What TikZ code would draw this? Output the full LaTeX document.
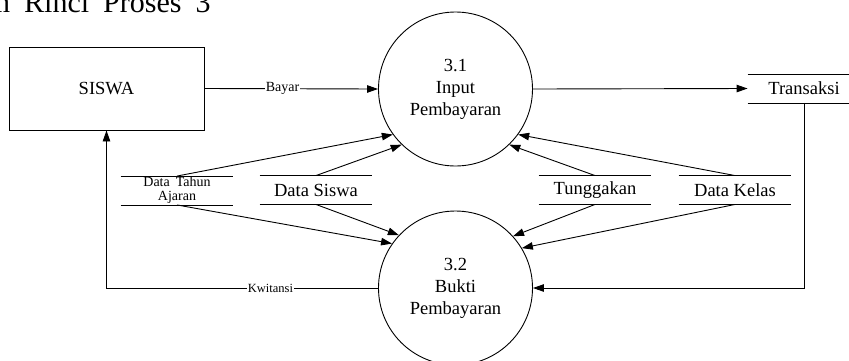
\documentclass[tikz,border=0pt]{standalone}
\usepackage{fontspec}
\setmainfont{Liberation Serif}
\usetikzlibrary{arrows.meta}
\begin{document}
\begin{tikzpicture}[x=1pt,y=-1pt,
  every path/.style={line width=0.9pt},
  arr/.style={draw, -{Triangle[length=11pt,width=7.5pt]}},
  proc/.style={circle, draw, minimum size=154pt, inner sep=0pt, align=center,
    font=\fontsize{18.5}{22}\selectfont},
  ent/.style={rectangle, draw, minimum width=195pt, minimum height=83pt, inner sep=0pt,
    font=\fontsize{18.5}{22}\selectfont},
  storebox/.style={rectangle, minimum width=112pt, minimum height=28pt, inner sep=0pt,
    align=center, font=\fontsize{18.5}{22}\selectfont},
  lbl/.style={fill=white, inner sep=0.6pt}
]
\useasboundingbox (0,0) rectangle (849,360);
\node[anchor=base east, inner sep=0pt, font=\fontsize{30}{32}\selectfont] (title) at (211,12.5) {\spaceskip=14pt\relax am Rinci Proses 3};

\node[ent] (siswa) at (106.5,88.5) {SISWA};
\node[proc] (c1) at (455.5,89) {3.1\\Input\\Pembayaran};
\node[proc] (c2) at (455.5,288) {3.2\\Bukti\\Pembayaran};

\node[storebox] (tr) at (804,88.5) {Transaksi};
\node[storebox, font=\fontsize{14}{14}\selectfont] (ta) at (177,190.5) {\spaceskip=6pt\relax Data Tahun\\Ajaran};
\node[storebox] (ds) at (316,190) {Data Siswa};
\node[storebox] (tg) at (595,190) {Tunggakan};
\node[storebox] (dk) at (735,190) {Data Kelas};

\foreach \s in {tr,ta,ds,tg,dk}{
  \draw (\s.north west) -- (\s.north east);
  \draw (\s.south west) -- (\s.south east);
}

\draw[arr] (siswa.east) -- node[lbl, pos=0.45, font=\fontsize{14}{14}\selectfont] (bayar) {Bayar} (c1.west);
\draw[arr] (c1.east) -- (tr.west);
\draw[arr] (tr.south) |- (c2.east);
\draw[arr] (c2.west) -| (siswa.south);
\node[lbl, font=\fontsize{12.5}{14}\selectfont] (kw) at (270.5,288) {Kwitansi};

\draw[arr] (ta.north) -- (c1.216);
\draw[arr] (ds.north) -- (c1.226);
\draw[arr] (tg.north) -- (c1.314);
\draw[arr] (dk.north) -- (c1.324.5);

\draw[arr] (ta.south) -- (c2.145.5);
\draw[arr] (ds.south) -- (c2.137);
\draw[arr] (tg.south) -- (c2.42.7);
\draw[arr] (dk.south) -- (c2.31.7);
\end{tikzpicture}
\end{document}
